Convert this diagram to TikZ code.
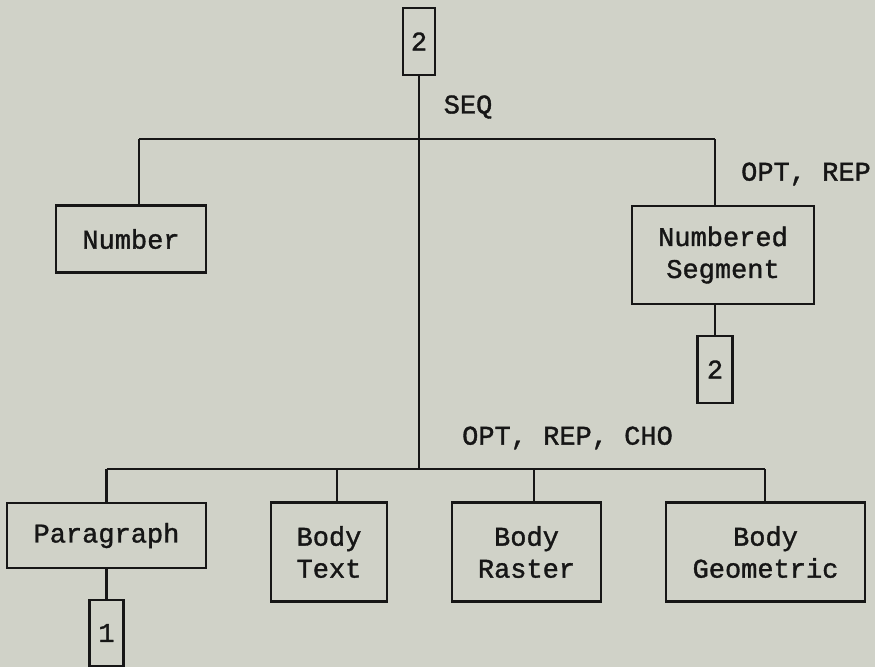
\documentclass[tikz,border=0pt]{standalone}
\usepackage{fontspec}
\newfontfamily\twfont[FakeBold=1.3]{Liberation Mono}
\definecolor{bg}{RGB}{208,210,200}
\definecolor{ink}{RGB}{22,22,22}
\begin{document}
\begin{tikzpicture}[x=1pt,y=-1pt,
  every node/.style={font=\twfont\fontsize{27}{32}\selectfont, text=ink, inner sep=0pt, align=center},
  box/.style={draw=ink, line width=2.8pt, rectangle},
  conn/.style={draw=ink, line width=2.8pt},
  lbl/.style={}]
\fill[bg] (0,0) rectangle (875,667);
\useasboundingbox (0,0) rectangle (875,667);
\begin{scope}
\clip (0,0) rectangle (875,667);
% nodes
\node[box, minimum width=32pt, minimum height=67pt] (top2) at (419,41.5) {2};
\node[box, minimum width=150pt, minimum height=67pt] (number) at (131,239) {Number};
\node[box, minimum width=182pt, minimum height=98pt] (numseg) at (723,255) {Numbered\\Segment};
\node[box, minimum width=35pt, minimum height=67pt] (seg2) at (715,369.5) {2};
\node[box, minimum width=199pt, minimum height=65pt] (para) at (106.5,535.5) {Paragraph};
\node[box, minimum width=34pt, minimum height=66pt] (para1) at (106.5,633) {1};
\node[box, minimum width=116pt, minimum height=99pt] (btext) at (329,552) {Body\\Text};
\node[box, minimum width=149pt, minimum height=99pt] (braster) at (526.5,552) {Body\\Raster};
\node[box, minimum width=199pt, minimum height=99pt] (bgeo) at (765.5,552) {Body\\Geometric};
% labels
\node[lbl] (seq) at (468,107) {SEQ};
\node[lbl] (optrep) at (806,174) {OPT, REP};
\node[lbl] (optrepcho) at (567.5,438) {OPT, REP, CHO};
% coordinates
\coordinate (hl) at (139,139);
\coordinate (hr) at (715,139);
\coordinate (bl) at (106.5,469);
\coordinate (bt) at (337,469);
\coordinate (bra) at (534,469);
\coordinate (br) at (765,469);
\coordinate (bm) at (419,469);
% connectors
\draw[conn] (top2.south) -- (bm);
\draw[conn] (hl) -- (hr);
\draw[conn] (hl) -- (hl |- number.north);
\draw[conn] (hr) -- (hr |- numseg.north);
\draw[conn] (seg2.north) -- (seg2.north |- numseg.south);
\draw[conn] (bl) -- (br);
\draw[conn] (bl) -- (bl |- para.north);
\draw[conn] (bt) -- (bt |- btext.north);
\draw[conn] (bra) -- (bra |- braster.north);
\draw[conn] (br) -- (br |- bgeo.north);
\draw[conn] (para.south) -- (para1.north);
\end{scope}
\end{tikzpicture}
\end{document}
